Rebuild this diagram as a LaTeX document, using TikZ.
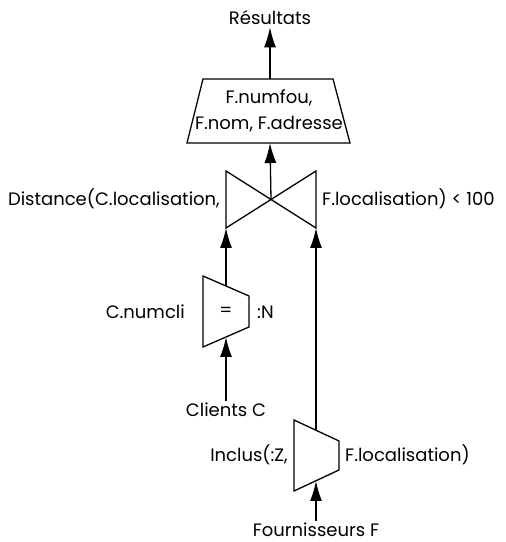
\documentclass[tikz,border=0pt]{standalone}
\usepackage{fontspec}
\setmainfont{Poppins}
\usetikzlibrary{arrows.meta,positioning,calc}

\begin{document}
\begin{tikzpicture}[x=1pt,y=1pt,
  flow/.style={line width=1.3pt,-{Latex[length=20pt,width=12pt]}},
  op/.style={line width=1.3pt},
  lbl/.style={font=\fontsize{18}{26}\selectfont,inner sep=2pt}]
\useasboundingbox (0,0) rectangle (506,542);

% projection on the supplier fields
\draw[op] (203,463) -- (333,463) -- (350,399) -- (187,399) -- cycle;
\coordinate (proj-top) at (270,463);
\coordinate (proj-bot) at (270,399);
\node[lbl,align=center] (proj) at (269,431) {F.numfou,\\F.nom, F.adresse};
\node[lbl] (res) at (270,524) {Résultats};
\draw[flow] (proj-top) -- (res);

% join on the distance
\draw[op] (226,371) -- (226,314) -- (316,371) -- (316,314) -- cycle;
\coordinate (join) at (271,343);
\coordinate (join-l) at (226,314);
\coordinate (join-r) at (316,314);
\node[lbl,anchor=east] (dist) at (222,343) {Distance(C.localisation,};
\node[lbl,anchor=west] (cond) at (320,343) {F.localisation) < 100};
\draw[flow] (join) -- (proj-bot);

% selection on the clients
\draw[op] (203,266) -- (249,246) -- (249,215) -- (203,195) -- cycle;
\coordinate (sel-top) at (226,256);
\coordinate (sel-bot) at (226,205);
\node[lbl] (eq) at (226,230) {=};
\node[lbl,anchor=east] (numcli) at (187,230) {C.numcli};
\node[lbl,anchor=west] (par) at (255,230) {:N};
\node[lbl] (cli) at (226,132) {Clients C};
\draw[flow] (cli) -- (sel-bot);
\draw[flow] (sel-top) -- (join-l);

% function on the suppliers
\draw[op] (294,122) -- (339,101) -- (339,72) -- (294,51) -- cycle;
\coordinate (fn-top) at (316,112);
\coordinate (fn-bot) at (316,61);
\node[lbl,anchor=east] (incl) at (290,87) {Inclus(:Z,};
\node[lbl,anchor=west] (loc) at (343,87) {F.localisation)};
\node[lbl] (fou) at (316,12) {Fournisseurs F};
\draw[flow] (fou) -- (fn-bot);
\draw[flow] (fn-top) -- (join-r);
\end{tikzpicture}
\end{document}
